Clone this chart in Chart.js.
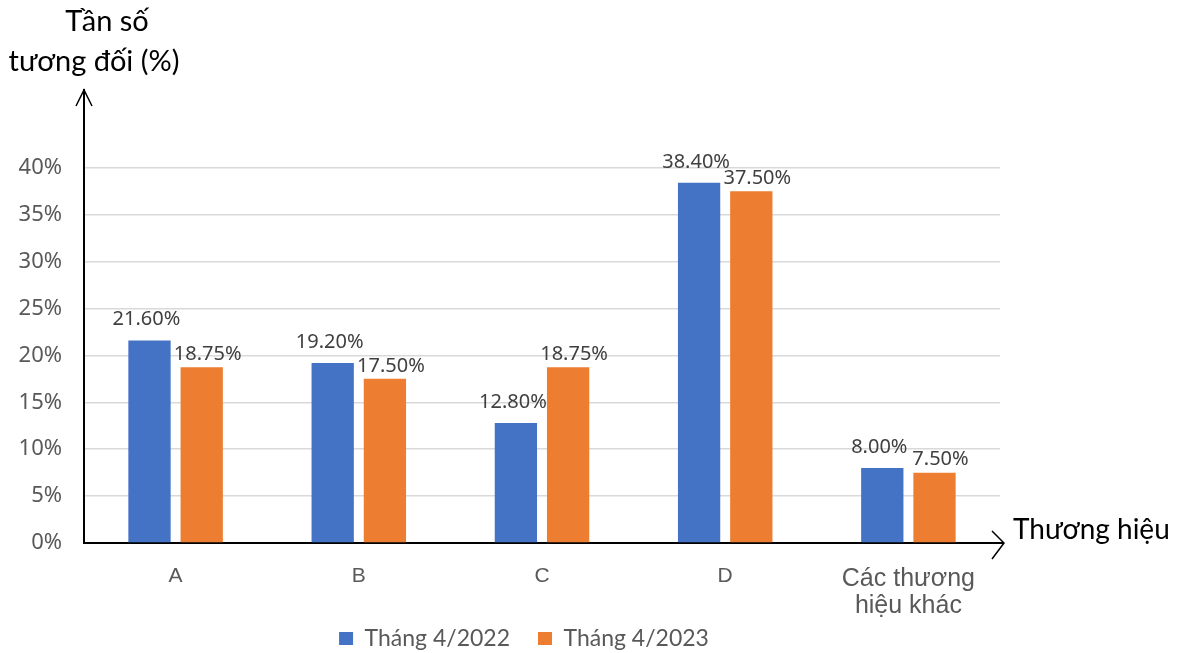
<!DOCTYPE html>
<html>
<head>
<meta charset="utf-8">
<script src="https://cdn.jsdelivr.net/npm/chart.js@4"></script>
<style>
  html, body { margin: 0; padding: 0; background: #fff; }
  #wrap { width: 1184px; height: 653px; position: relative; }
</style>
</head>
<body>
<div id="wrap"><canvas id="chart"></canvas></div>
<script>
// data
const brands = ['A', 'B', 'C', 'D', ['Các thương', 'hiệu khác']];
const apr2022 = [21.6, 19.2, 12.8, 38.4, 8.0];
const apr2023 = [18.75, 17.5, 18.75, 37.5, 7.5];
const seriesNames = ['Tháng 4/2022', 'Tháng 4/2023'];
const yTicks = [0, 5, 10, 15, 20, 25, 30, 35, 40];

const BLUE = '#4472C4';
const ORANGE = '#ED7D31';
const GREY = '#595959';

// arrows on the axes + axis names + value labels
const decorPlugin = {
  id: 'decor',
  afterLayout(chart) {
    // nudge the legend a bit right and up, like the excel original
    const lg = chart.legend;
    lg.left += 24; lg.right += 24;
    lg.top -= 37; lg.bottom -= 37;
  },
  afterDatasetsDraw(chart) {
    const { ctx, chartArea } = chart;
    const left = chartArea.left, bottom = chartArea.bottom;
    ctx.save();
    ctx.strokeStyle = '#000';
    ctx.lineWidth = 1.5;
    // y arrow
    ctx.beginPath();
    ctx.moveTo(left - 8, chartArea.top + 16);
    ctx.lineTo(left, chartArea.top);
    ctx.lineTo(left + 8, chartArea.top + 16);
    ctx.stroke();
    // x axis extension + arrow
    const xEnd = chartArea.right + 4;
    ctx.lineWidth = 2;
    ctx.beginPath();
    ctx.moveTo(chartArea.right - 2, bottom);
    ctx.lineTo(xEnd, bottom);
    ctx.stroke();
    ctx.lineWidth = 1.5;
    ctx.beginPath();
    ctx.moveTo(xEnd - 12, bottom - 12);
    ctx.lineTo(xEnd, bottom);
    ctx.lineTo(xEnd - 12, bottom + 16);
    ctx.stroke();

    // axis names
    ctx.fillStyle = '#000';
    ctx.font = '29px Lato';
    ctx.textAlign = 'center';
    ctx.textBaseline = 'middle';
    ctx.fillText('Tần số', 107, 22);
    ctx.fillText('tương đối (%)', 94, 62);
    ctx.textAlign = 'left';
    ctx.font = '28px Lato';
    ctx.fillText('Thương hiệu', 1013, 530);

    // value labels
    ctx.fillStyle = '#404040';
    ctx.font = '20px "Noto Sans"';
    ctx.textAlign = 'center';
    const shift = [{ dx: -3, dy: 21 }, { dx: 6, dy: 13 }];
    chart.data.datasets.forEach((ds, di) => {
      const meta = chart.getDatasetMeta(di);
      meta.data.forEach((bar, i) => {
        const txt = ds.data[i].toFixed(2) + '%';
        ctx.fillText(txt, bar.x + shift[di].dx, bar.y - shift[di].dy);
      });
    });
    ctx.restore();
  }
};

new Chart(document.getElementById('chart'), {
  type: 'bar',
  data: {
    labels: brands,
    datasets: [
      { label: seriesNames[0], data: apr2022, backgroundColor: BLUE },
      { label: seriesNames[1], data: apr2023, backgroundColor: ORANGE }
    ]
  },
  options: {
    responsive: true,
    maintainAspectRatio: false,
    animation: false,
    categoryPercentage: 0.57,
    barPercentage: 0.81,
    layout: { padding: { top: 90, right: 184, left: 0, bottom: -44 } },
    plugins: {
      legend: {
        position: 'bottom',
        labels: {
          color: GREY,
          font: { size: 23, family: 'Lato' },
          boxWidth: 14,
          boxHeight: 13,
          padding: 28
        }
      },
      tooltip: { enabled: false }
    },
    scales: {
      x: {
        grid: { display: false, drawTicks: false },
        border: { color: '#000', width: 2 },
        ticks: {
          color: GREY,
          padding: 22,
          maxRotation: 0,
          font: (c) => ({ size: c.index === 4 ? 25 : 21, family: 'Liberation Sans', lineHeight: 1.1 })
        },
        afterFit: (s) => { s.height = 93; }
      },
      y: {
        min: 0,
        max: 48.3,
        afterBuildTicks: (s) => { s.ticks = yTicks.map(v => ({ value: v })); },
        grid: {
          drawTicks: false,
          color: (c) => (c.tick && c.tick.value > 0 ? '#D9D9D9' : 'transparent'),
          lineWidth: 1.5
        },
        border: { color: '#000', width: 2 },
        ticks: {
          color: GREY,
          padding: 22,
          font: { size: 22, family: 'Noto Sans' },
          callback: (v) => v + '%'
        },
        afterFit: (s) => { s.width = 84; }
      }
    }
  },
  plugins: [decorPlugin]
});
</script>
</body>
</html>
